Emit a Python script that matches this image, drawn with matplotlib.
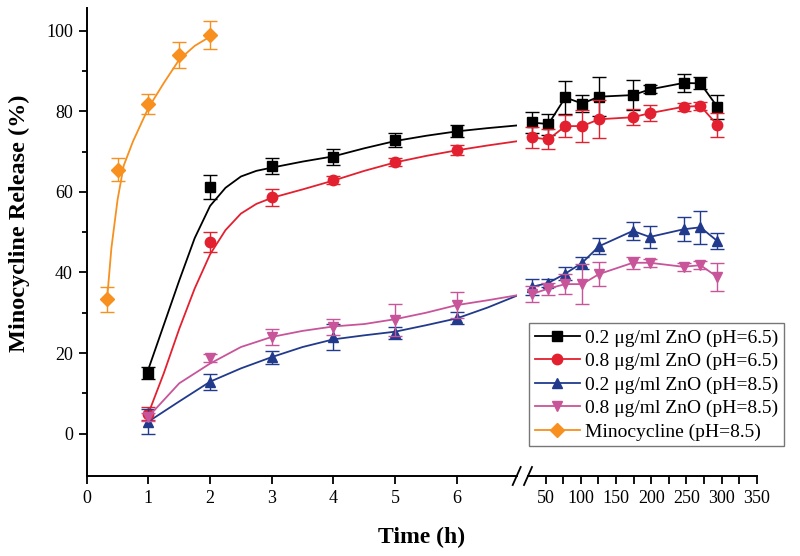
import matplotlib
matplotlib.use("Agg")
import matplotlib.pyplot as plt
from matplotlib.lines import Line2D
from matplotlib.ticker import FixedLocator

plt.rcParams.update({
    "font.family": "serif", "font.serif": ["Liberation Serif", "DejaVu Serif"],
    "font.size": 12, "axes.linewidth": 1.4,
    "xtick.major.width": 1.3, "ytick.major.width": 1.3,
    "xtick.minor.width": 1.3, "ytick.minor.width": 1.3,
    "xtick.major.size": 6, "ytick.major.size": 6,
    "xtick.minor.size": 6, "ytick.minor.size": 3.5,
})

# ---- data ----
LABELS = ["0.2 μg/ml ZnO (pH=6.5)", "0.8 μg/ml ZnO (pH=6.5)",
          "0.2 μg/ml ZnO (pH=8.5)", "0.8 μg/ml ZnO (pH=8.5)",
          "Minocycline (pH=8.5)"]

# early times (h)
t_early = [1, 2, 3, 4, 5, 6]
black_e = [15.0, 61.2, 66.4, 68.7, 72.8, 75.0]
black_e_err = [1.5, 3.0, 2.1, 2.0, 1.8, 1.5]
red_e = [5.0, 47.6, 58.6, 62.9, 67.4, 70.3]
red_e_err = [1.5, 2.5, 2.0, 1.0, 1.0, 1.2]
blue_e = [3.0, 12.9, 18.9, 23.9, 25.0, 28.6]
blue_e_err = [3.0, 2.0, 1.5, 3.2, 1.5, 1.5]
pink_e = [4.2, 18.7, 24.0, 26.4, 28.2, 31.9]
pink_e_err = [1.0, 1.0, 2.0, 2.0, 4.0, 3.3]

t_mino = [0.33, 0.5, 1, 1.5, 2]
mino = [33.3, 65.5, 81.8, 93.9, 98.9]
mino_err = [3.0, 2.8, 2.4, 3.3, 3.5]

# fitted curves in the early segment
fit_t_black = [1.0, 1.25, 1.5, 1.75, 2.0, 2.25, 2.5, 2.75, 3.0, 3.5, 4.0, 4.5, 5.0, 5.5, 6.0, 6.5, 7.0]
fit_black = [16.0, 27.0, 38.0, 48.5, 56.5, 61.0, 63.8, 65.2, 66.0, 67.5, 68.8, 70.8, 72.6, 73.9, 75.0, 75.8, 76.5]
fit_t_red = [1.0, 1.25, 1.5, 1.75, 2.0, 2.25, 2.5, 2.75, 3.0, 3.5, 4.0, 4.5, 5.0, 5.5, 6.0, 6.5, 7.0]
fit_red = [5.0, 15.0, 26.0, 36.0, 44.5, 50.5, 54.6, 57.0, 58.5, 60.6, 62.8, 65.2, 67.3, 68.9, 70.3, 71.5, 72.6]
fit_t_blue = [1.0, 1.5, 2.0, 2.5, 3.0, 3.5, 4.0, 4.5, 5.0, 5.5, 6.0, 6.5, 7.0]
fit_blue = [3.0, 8.0, 12.9, 16.2, 19.0, 21.5, 23.4, 24.4, 25.3, 26.9, 28.6, 31.3, 34.4]
fit_t_pink = [1.0, 1.5, 2.0, 2.5, 3.0, 3.5, 4.0, 4.5, 5.0, 5.5, 6.0, 6.5, 7.0]
fit_pink = [4.2, 12.5, 17.4, 21.5, 24.0, 25.5, 26.6, 27.2, 28.4, 30.0, 31.9, 33.1, 34.4]
fit_t_mino = [0.33, 0.4, 0.5, 0.6, 0.75, 0.9, 1.0, 1.25, 1.5, 1.75, 2.0]
fit_mino = [33.3, 46.0, 58.0, 66.5, 72.5, 77.5, 80.8, 87.0, 92.8, 96.2, 98.5]

# late times (h)
t_late = [30, 54, 78, 102, 126, 174, 198, 246, 270, 294]
black_l = [77.2, 76.8, 83.4, 81.9, 83.6, 84.0, 85.4, 87.0, 86.9, 81.1]
black_l_err = [2.7, 2.6, 4.1, 2.0, 4.9, 3.7, 1.0, 2.2, 1.5, 3.0]
red_l = [73.5, 73.0, 76.3, 76.3, 78.0, 78.5, 79.5, 81.1, 81.3, 76.6]
red_l_err = [2.6, 2.5, 2.7, 3.9, 4.7, 2.0, 2.0, 1.0, 1.0, 3.0]
blue_l = [36.4, 37.4, 39.7, 42.4, 46.5, 50.3, 48.8, 50.7, 51.2, 47.8]
blue_l_err = [2.0, 1.0, 1.7, 1.5, 2.0, 2.3, 2.7, 3.0, 4.1, 2.0]
pink_l = [34.6, 36.0, 37.1, 37.1, 39.6, 42.4, 42.4, 41.4, 41.8, 38.9]
pink_l_err = [2.0, 1.5, 2.5, 5.0, 3.0, 1.5, 1.0, 1.0, 1.0, 3.5]

COLORS = ["#000000", "#e3202f", "#213a8c", "#c8559a", "#f7901e"]
MARKERS = ["s", "o", "^", "v", "D"]
MSIZE = [7, 7.5, 7.5, 7.5, 7]

fig = plt.figure(figsize=(8, 5.56), dpi=100)
W, H = 800, 556
ax1 = fig.add_axes([86.7 / W, 1 - 476 / H, 430 / W, 468 / H])
ax2 = fig.add_axes([528 / W, 1 - 476 / H, 228.7 / W, 468 / H])

early = [(black_e, black_e_err, fit_t_black, fit_black),
         (red_e, red_e_err, fit_t_red, fit_red),
         (blue_e, blue_e_err, fit_t_blue, fit_blue),
         (pink_e, pink_e_err, fit_t_pink, fit_pink)]
late = [(black_l, black_l_err), (red_l, red_l_err),
        (blue_l, blue_l_err), (pink_l, pink_l_err)]

for i, (y, e, ft, fy) in enumerate(early):
    c = COLORS[i]
    ax1.plot(ft, fy, color=c, lw=1.3, zorder=2 + i)
    ax1.errorbar(t_early, y, yerr=e, fmt=MARKERS[i], ms=MSIZE[i], color=c,
                 mec=c, ecolor=c, elinewidth=1, capsize=5, capthick=1,
                 zorder=3 + i, clip_on=False)
ax1.plot(fit_t_mino, fit_mino, color=COLORS[4], lw=1.3, zorder=8)
ax1.errorbar(t_mino, mino, yerr=mino_err, fmt=MARKERS[4], ms=MSIZE[4],
             color=COLORS[4], ecolor=COLORS[4], elinewidth=1, capsize=5,
             capthick=1, zorder=9, clip_on=False)

for i, (y, e) in enumerate(late):
    c = COLORS[i]
    ax2.errorbar(t_late, y, yerr=e, fmt="-" + MARKERS[i], ms=MSIZE[i], lw=1.3,
                 color=c, ecolor=c, elinewidth=1, capsize=5, capthick=1,
                 zorder=3 + i, clip_on=False)

ylim = (-10.5, 105.6)
for ax in (ax1, ax2):
    ax.set_ylim(*ylim)
    ax.spines["top"].set_visible(False)
    ax.spines["right"].set_visible(False)
    ax.patch.set_alpha(0)

ax1.set_xlim(0, 6.97)
ax1.set_xticks(range(0, 7))
ax1.yaxis.set_major_locator(FixedLocator([0, 20, 40, 60, 80, 100]))
ax1.yaxis.set_minor_locator(FixedLocator([10, 30, 50, 70, 90]))
ax1.tick_params(labelsize=13, pad=4)
ax1.set_ylabel("Minocycline Release (%)", fontsize=17.5, fontweight="bold")
ax1.yaxis.set_label_coords(-0.132, 0.54)

ax2.set_xlim(25, 350)
ax2.set_xticks(range(50, 351, 50))
ax2.xaxis.set_minor_locator(FixedLocator(list(range(75, 326, 50))))
ax2.spines["left"].set_visible(False)
ax2.tick_params(axis="y", left=False, labelleft=False)
ax2.tick_params(axis="x", labelsize=13, pad=4)

# axis break marks
dx, dy = 4 / 430, 9 / 468
ax1.plot([1 - dx, 1 + dx], [-dy, dy], transform=ax1.transAxes, color="k",
         lw=1.3, clip_on=False)
dx2 = 4 / 228.7
ax2.plot([-dx2, dx2], [-dy, dy], transform=ax2.transAxes, color="k",
         lw=1.3, clip_on=False)

fig.text(421.7 / W, 1 - 537 / H, "Time (h)", fontsize=17, fontweight="bold",
         ha="center", va="center")

handles = [Line2D([], [], color=COLORS[i], marker=MARKERS[i], ms=MSIZE[i], lw=1.3)
           for i in range(5)]
leg = fig.legend(handles, LABELS, loc="upper left",
                 bbox_to_anchor=(529 / W, 1 - 323 / H), fontsize=14,
                 frameon=True, fancybox=False, borderaxespad=0, borderpad=0.3,
                 labelspacing=0.3, handlelength=2.3, handletextpad=0.3)
leg.get_frame().set_edgecolor("#555555")
leg.get_frame().set_linewidth(1.0)

fig.savefig("out.png", dpi=100)
